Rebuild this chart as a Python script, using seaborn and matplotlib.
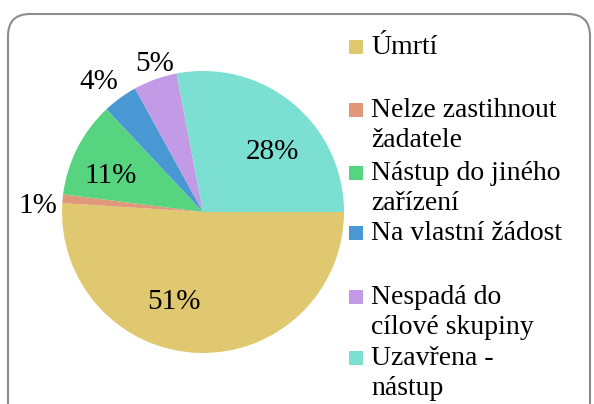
import numpy as np
import seaborn as sns
import matplotlib.pyplot as plt
from matplotlib.patches import FancyBboxPatch, Rectangle
from matplotlib.transforms import IdentityTransform

# data
categories = ["Úmrtí", "Nelze zastihnout\nžadatele", "Nástup do jiného\nzařízení",
              "Na vlastní žádost", "Nespadá do\ncílové skupiny", "Uzavřena -\nnástup"]
shares = [51, 1, 11, 4, 5, 28]
pct_labels = ["51%", "1%", "11%", "4%", "5%", "28%"]
colors = ["#E0C870", "#E0987A", "#57D47F", "#4A98D3", "#C39AE6", "#7BDFD2"]

# label placement: distance (fraction of radius) and angle nudge from wedge middle
label_dist = [0.65, 1.17, 0.71, 1.2, 1.13, 0.67]
label_turn = [-17, 2, 4, 2, -2, -8]

sns.set_theme(style="white")
plt.rcParams['font.family'] = ['Liberation Serif', 'DejaVu Serif']
FS = 20

W, H = 594, 404
fig = plt.figure(figsize=(W / 100, H / 100), dpi=100)

# rounded frame
frame = FancyBboxPatch((8, -30), 582, 404 - 14 + 30,
                       boxstyle="round,pad=0,rounding_size=22",
                       transform=IdentityTransform(), facecolor="none",
                       edgecolor="#8c8c8c", linewidth=1.5, zorder=-1)
fig.patches.append(frame)

cx, cy, r = 203, 212, 141
ax = fig.add_axes([(cx - r) / W, (H - cy - r) / H, 2 * r / W, 2 * r / H])
wedges, _ = ax.pie(shares, colors=sns.color_palette(colors), startangle=0,
                   counterclock=False, wedgeprops=dict(linewidth=0))
ax.set_xlim(-1, 1)
ax.set_ylim(-1, 1)
ax.axis("off")

for w, lab, d, t in zip(wedges, pct_labels, label_dist, label_turn):
    ang = np.deg2rad((w.theta1 + w.theta2) / 2 + t)
    ax.text(d * np.cos(ang), d * np.sin(ang) - 0.025, lab, ha="center", va="center",
            fontsize=FS + 1, color="black")

# legend, one two-line slot per entry
slot_y = [47, 110, 173, 233, 297, 358]
for name, col, y in zip(categories, colors, slot_y):
    fig.patches.append(Rectangle((349, H - y - 7), 14, 14, transform=IdentityTransform(),
                                 facecolor=col, edgecolor="none"))
    fig.text(371 / W, 1 - (y - 12) / H, name, ha="left", va="top",
             fontsize=FS, linespacing=1.28, color="black")

fig.savefig("out.png", dpi=100)
